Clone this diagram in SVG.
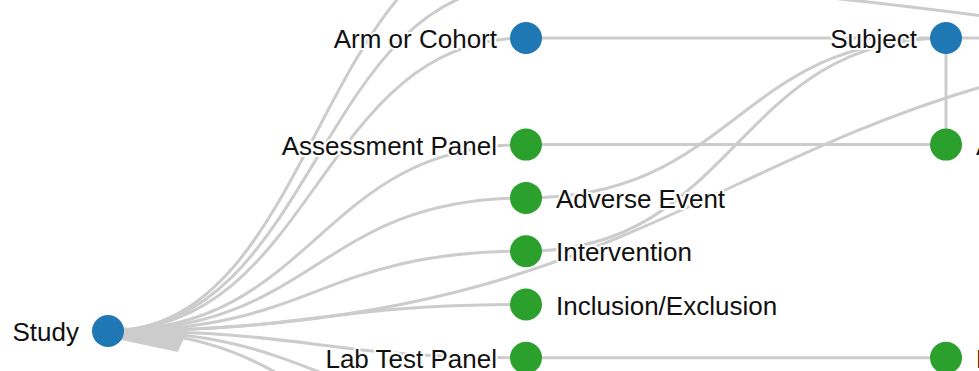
<svg xmlns="http://www.w3.org/2000/svg" width="979" height="371" viewBox="0 0 979 371">
<style>
.link{fill:none;stroke:#cccccc;stroke-width:3}
.spike{fill:#cccccc;stroke:none}
.blue{fill:#1f77b4}
.green{fill:#2ca02c}
text{font-family:"Liberation Sans",Arial,Helvetica,sans-serif;font-size:26px;fill:#111;stroke:#fff;stroke-width:4;stroke-linejoin:round;paint-order:stroke}
.end{text-anchor:end}
</style>
<rect width="979" height="371" fill="#fff"/>
<g id="connectors">
<path class="spike" d="M112,326 L188,334 L183,340 L178,352 L112,338 Z"/>
<path class="link" d="M108,331C317,331 317,-68.6 526,-68.6"/>
<path class="link" d="M108,331C317,331 317,-15.3 526,-15.3"/>
<path class="link" d="M108,331C317,331 317,38 526,38"/>
<path class="link" d="M108,331C317,331 317,144.6 526,144.6"/>
<path class="link" d="M108,331C317,331 317,197.9 526,197.9"/>
<path class="link" d="M108,331C317,331 317,251.2 526,251.2"/>
<path class="link" d="M108,331C317,331 317,304.5 526,304.5"/>
<path class="link" d="M108,331C317,331 317,357.8 526,357.8"/>
<path class="link" d="M108,331C317,331 317,411.1 526,411.1"/>
<path class="link" d="M108,331C317,331 317,464.4 526,464.4"/>
<path class="link" d="M108,331C737,331 737,38 1366,38"/>
<path class="link" d="M526,-15.3C946,-15.3 946,38 1366,38"/>
<path class="link" d="M526,38L946,38"/>
<path class="link" d="M946,38L1366,38"/>
<path class="link" d="M526,144.6L946,144.6"/>
<path class="link" d="M526,357.8L946,357.8"/>
<path class="link" d="M946,38L946,144.6"/>
<path class="link" d="M526,197.9C736,197.9 736,38 946,38"/>
<path class="link" d="M526,251.2C736,251.2 736,38 946,38"/>
</g>
<g id="node-study"><circle class="blue" cx="108" cy="331" r="16"/><text class="end" x="79" y="341">Study</text></g>
<g id="node-arm"><circle class="blue" cx="526" cy="38" r="16"/><text class="end" x="497" y="48">Arm or Cohort</text></g>
<g id="node-assessment"><circle class="green" cx="526" cy="144.6" r="16"/><text class="end" x="497" y="154.6">Assessment Panel</text></g>
<g id="node-adverse"><circle class="green" cx="526" cy="197.9" r="16"/><text x="556" y="207.9">Adverse Event</text></g>
<g id="node-intervention"><circle class="green" cx="526" cy="251.2" r="16"/><text x="556" y="261.2">Intervention</text></g>
<g id="node-inclusion"><circle class="green" cx="526" cy="304.5" r="16"/><text x="556" y="314.5">Inclusion/Exclusion</text></g>
<g id="node-labtest"><circle class="green" cx="526" cy="357.8" r="16"/><text class="end" x="497" y="367.8">Lab Test Panel</text></g>
<g id="node-subject"><circle class="blue" cx="946" cy="38" r="16"/><text class="end" x="917" y="48">Subject</text></g>
<g id="node-a"><circle class="green" cx="946" cy="144.6" r="16"/><text x="976" y="154.6">A</text></g>
<g id="node-l"><circle class="green" cx="946" cy="357.8" r="16"/><text x="976" y="367.8">L</text></g>
</svg>
